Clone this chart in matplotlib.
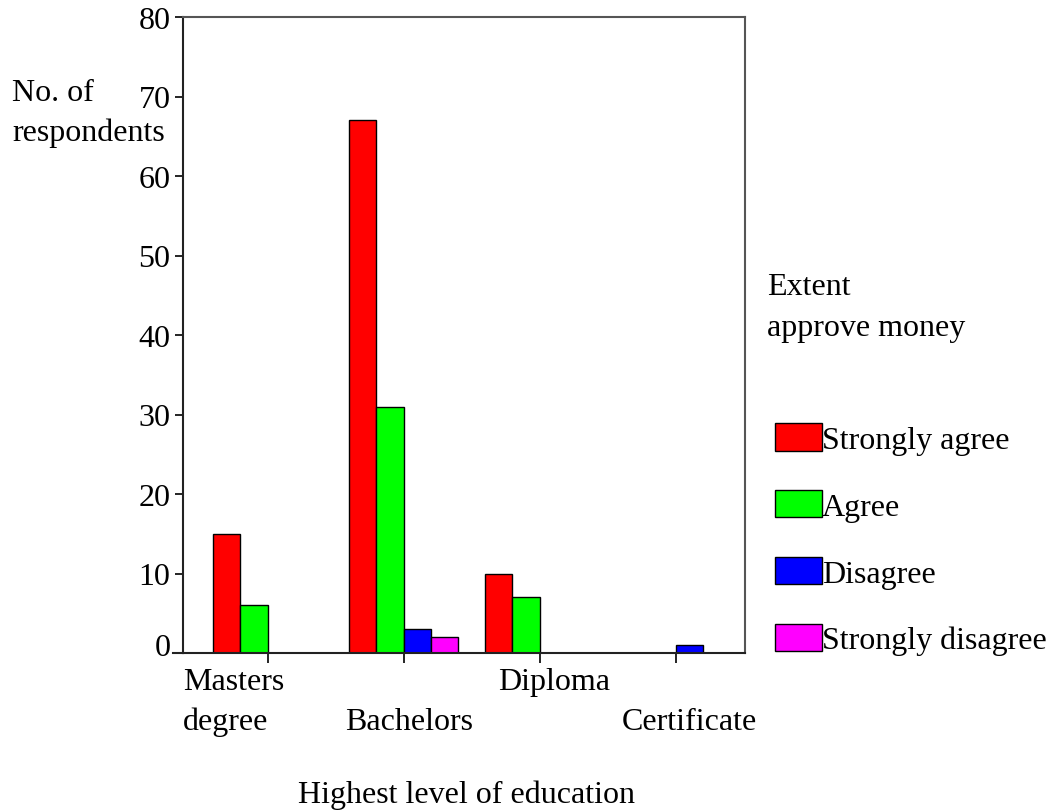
import matplotlib
matplotlib.use("Agg")
import matplotlib.pyplot as plt
import numpy as np
from matplotlib.transforms import offset_copy, ScaledTranslation

categories = ["Masters\ndegree", "Bachelors", "Diploma", "Certificate"]
series = ["Strongly agree", "Agree", "Disagree", "Strongly disagree"]
strongly_agree = [15, 67, 10, 0]
agree = [6, 31, 7, 0]
disagree = [0, 3, 0, 1]
strongly_disagree = [0, 2, 0, 0]
values = [strongly_agree, agree, disagree, strongly_disagree]
colors = ["#ff0000", "#00ff00", "#0000ff", "#ff00ff"]
yticks = [0, 10, 20, 30, 40, 50, 60, 70, 80]

plt.rcParams["font.family"] = ["Liberation Serif", "DejaVu Serif"]
FS = 23

W, H = 1052, 812
fig = plt.figure(figsize=(W / 100, H / 100), dpi=100)
ax = fig.add_axes([183 / W, 1 - 654 / H, (745 - 183) / W, (654 - 18) / H])

x = np.arange(len(categories))
bw = 0.2
handles = []
for i, (vals, c, name) in enumerate(zip(values, colors, series)):
    pos = x + (i - 1.5) * bw
    b = ax.bar(pos, vals, width=bw, color=c, edgecolor="black", linewidth=1.0, label=name)
    handles.append(b)

ax.set_xlim(-0.622, 3.51)
ax.set_ylim(0, 80)
ax.set_yticks(yticks)
ax.set_yticklabels([str(t) for t in yticks], fontsize=FS)
ax.tick_params(axis="y", direction="out", length=6, width=1.2, pad=3)
ax.set_xticks(x)
ax.set_xticklabels([])
ax.tick_params(axis="x", direction="out", length=7, width=1.2)

# the "0" label sits a bit above its tick in the original
fig.canvas.draw()
lab0 = ax.get_yticklabels()[0]
lab0.set_transform(lab0.get_transform() + ScaledTranslation(0, 9 / 100, fig.dpi_scale_trans))

for s in ["left", "bottom"]:
    ax.spines[s].set_color("#222222")
    ax.spines[s].set_linewidth(1.5)
for s in ["top", "right"]:
    ax.spines[s].set_color("#555555")
    ax.spines[s].set_linewidth(1.5)

# extend baseline a little to the left like the original
ax.plot([-0.622 - 10 / 136, -0.622], [0, 0], color="#222222", lw=1.5, clip_on=False)

# category labels, alternating rows
trans = ax.get_xaxis_transform()
t0 = offset_copy(trans, fig=fig, x=0, y=-14 * 0.72, units="points")
ax.text(-0.622, 0, categories[0], transform=t0, ha="left", va="top", fontsize=FS,
        linespacing=1.45, multialignment="left")
label_dx = [5, 14, 14]
label_rows = [1, 0, 1]
for xi, lab, dx, row in zip(x[1:], categories[1:], label_dx, label_rows):
    t = offset_copy(trans, fig=fig, x=dx * 0.72, y=-(14 + 40 * row) * 0.72, units="points")
    ax.text(xi, 0, lab, transform=t, ha="center", va="top", fontsize=FS)

fig.text(467 / W, 1 - 795 / H, "Highest level of education", ha="center", va="center", fontsize=FS)
fig.text(12 / W, 1 - 79 / H, "No. of\nrespondents", ha="left", va="top", fontsize=FS, linespacing=1.45)
fig.text(767 / W, 1 - 273 / H, "Extent\napprove money", ha="left", va="top", fontsize=FS, linespacing=1.55)

leg = fig.legend(handles=handles, labels=series, loc="upper left",
                 bbox_to_anchor=(775 / W, 1 - 424 / H), frameon=False, fontsize=FS,
                 handlelength=1.47, handleheight=0.95, handletextpad=0.0,
                 labelspacing=1.1, borderpad=0, borderaxespad=0)

fig.savefig("out.png", dpi=100)
